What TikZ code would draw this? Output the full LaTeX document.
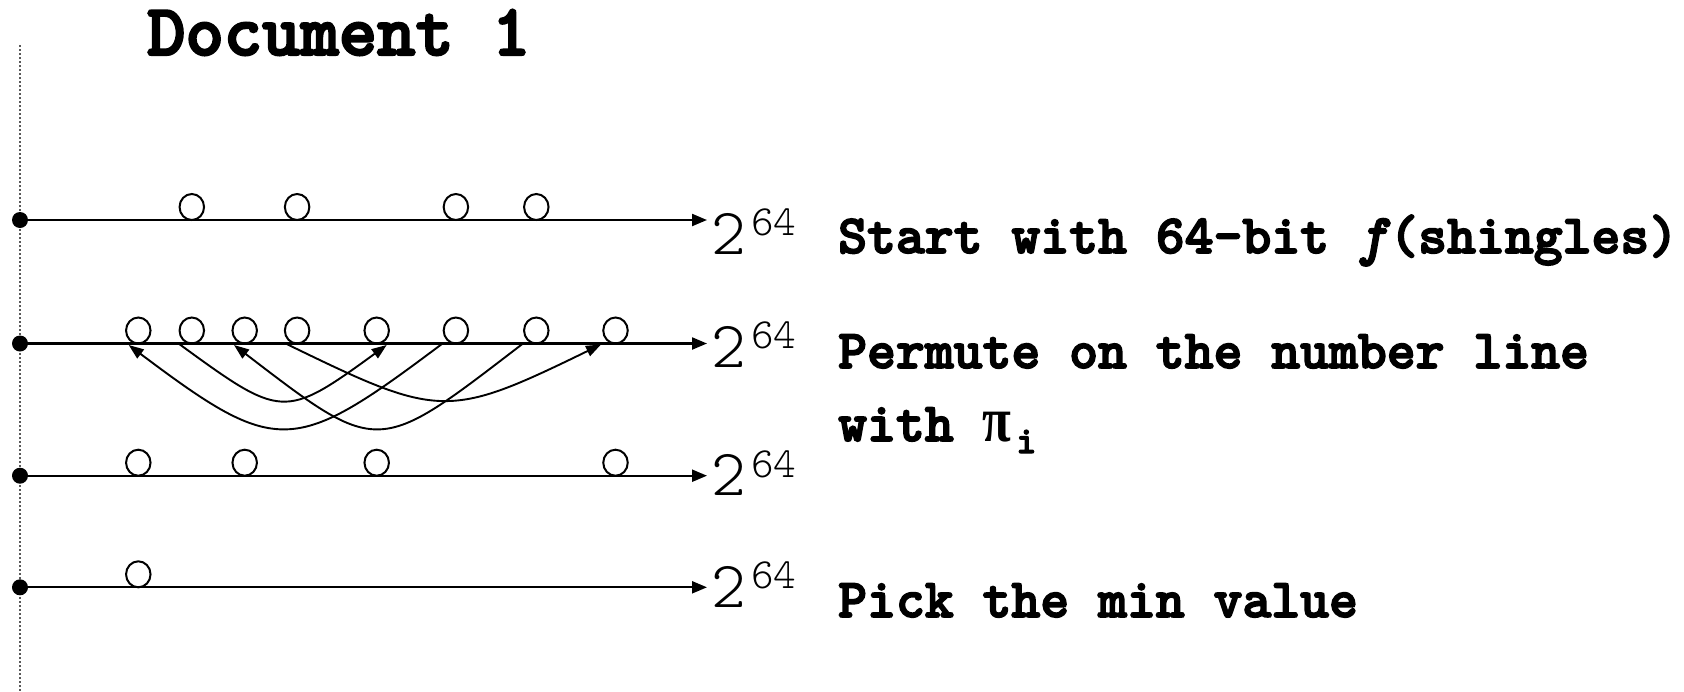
\documentclass[tikz,border=0pt]{standalone}
\usepackage{fontspec}
\newfontfamily\courbold{lmmonolt10-bold.otf}[ItalicFont=lmmono10-italic.otf,UprightFeatures={FakeBold=3},ItalicFeatures={FakeBold=5}]
\newfontfamily\thinmono{lmmonolt10-regular.otf}
\newfontfamily\serifpi{Liberation Serif}
\usetikzlibrary{arrows.meta,calc,shapes.geometric}
\begin{document}
\begin{tikzpicture}[x=1pt,y=-1pt,
  numline/.style={line width=2.2pt,-{Triangle[length=15pt,width=12pt]}},
  perm/.style={line width=1.9pt,-{Triangle[length=15pt,width=11pt]}},
  val/.style={draw,ellipse,line width=2pt,minimum width=24.5pt,minimum height=26pt,inner sep=0pt,outer sep=0pt,anchor=south},
  origin/.style={circle,fill=black,minimum size=16pt,inner sep=0pt},
  guide/.style={line width=1.3pt,black!65,dash pattern=on 2pt off 2pt},
  title/.style={anchor=base west,inner sep=0pt,font=\courbold\fontsize{73}{80}\selectfont},
  lbl/.style={anchor=base west,inner sep=0pt,font=\courbold\fontsize{55}{60}\selectfont},
  two/.style={anchor=base west,inner sep=0pt,font=\thinmono\fontsize{66}{66}\selectfont},
  expo/.style={anchor=base west,inner sep=0pt,font=\thinmono\fontsize{43}{43}\selectfont}]
\useasboundingbox (0,0) rectangle (1684,691);

% title
\node[title] (ttl) at (147,55) {Document 1};

% vertical dotted guide
\coordinate (gtop) at (20,45);
\coordinate (gbot) at (20,691);
\draw[guide] (gtop) -- (gbot);

% number lines
\foreach \k/\y/\tb/\eb in {1/220/254/235,2/343.5/367/348,3/475.7/495/477,4/587.3/607/588}{
  \node[origin] (d\k) at (20,\y) {};
  \coordinate (e\k) at (707,\y);
  \draw[numline] (d\k.center) -- (e\k);
  \node[two] (t\k) at (711,\tb) {2};
  \node[expo] (p\k) at (751,\eb) {64};
}

% values on line 1
\foreach \x [count=\i] in {191.8,297.1,455.9,536.3}
  \node[val] (a\i) at (\x,220) {};
% values on line 2
\foreach \x [count=\i] in {138.3,191.8,244.7,297.1,376.7,455.9,536.3,615.5}
  \node[val] (b\i) at (\x,343.5) {};
% values on line 3
\foreach \x [count=\i] in {138.3,244.7,376.7,615.5}
  \node[val] (c\i) at (\x,475.7) {};
% value on line 4
\node[val] (m1) at (138.3,587.3) {};

% permutation arcs
\draw[perm] ([xshift=-13.3pt]b2.south) .. controls +(103,75) and +(-103,75) .. ([xshift=10pt,yshift=-1.5pt]b5.south);
\draw[perm] ([xshift=-13.4pt]b6.south) .. controls +(-149,112) and +(149,112) .. ([xshift=-9.6pt,yshift=-1.5pt]b1.south);
\draw[perm] ([xshift=-13.3pt]b7.south) .. controls +(-146,112) and +(146,112) .. ([xshift=-10.7pt,yshift=-1.5pt]b3.south);
\draw[perm] ([xshift=-11.5pt]b4.south) .. controls +(154,75) and +(-154,75) .. ([xshift=-14.5pt,yshift=-1pt]b8.south);

% labels
\node[lbl] (s1) at (838,253) {Start with 64-bit \textit{f}(shingles)};
\node[lbl] (s2) at (838,368) {Permute on the number line};
\node[lbl] (s3) at (838,441) {with {\serifpi\bfseries\fontsize{64}{64}\selectfont\scalebox{0.82}[1]{π}}\kern5pt\raisebox{-12pt}{\fontsize{38}{38}\selectfont i}};
\node[lbl] (s4) at (838,617) {Pick the min value};
\end{tikzpicture}
\end{document}
